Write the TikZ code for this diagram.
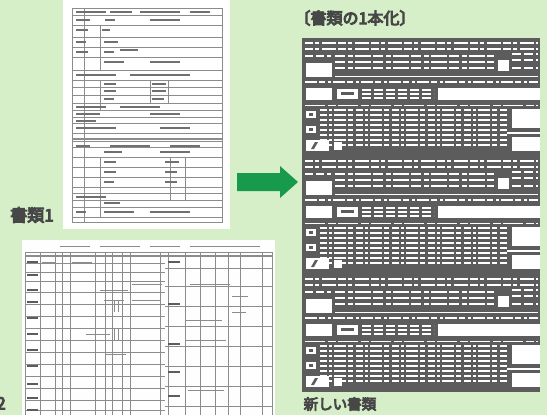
\documentclass[tikz,border=0pt]{standalone}
\usepackage{fontspec}
\newfontfamily\jp[AutoFakeBold=6]{Noto Sans CJK JP}
\definecolor{bg}{HTML}{D6EFC8}
\definecolor{fg}{HTML}{5C5C5C}
\definecolor{txt}{HTML}{474747}
\definecolor{arrowgreen}{HTML}{179A4C}
\definecolor{pline}{HTML}{8C8C8C}
\tikzset{
  wd/.style={white, line width=1.8pt},
  thinl/.style={pline, line width=0.5pt},
  thickl/.style={pline, line width=1.3pt},
  lbl/.style={text=txt, inner sep=0pt, font=\jp\bfseries},
}
\newcommand\formblock[1]{%
\begin{scope}[shift={(302,#1)}]
  \fill[fg] (0,0) rectangle (238,118);
  % top section
  \foreach \yy in {5,11} \draw[wd, dash pattern=on 8pt off 2pt on 4pt off 3pt on 14pt off 2pt] (3,\yy) -- (236,\yy);
  \foreach \yy in {18,24,30} \draw[wd, dash pattern=on 10pt off 3pt on 5pt off 2pt on 16pt off 2pt] (33,\yy) -- (192,\yy);
  \foreach \yy in {16,22,30} \draw[wd, dash pattern=on 9pt off 3pt] (210,\yy) -- (236,\yy);
  \draw[wd, dash pattern=on 8pt off 3pt] (3,18) -- (29,18);
  \fill[white] (4,25) rectangle (30,39);
  \fill[white] (196,22) rectangle (207,33);
  \draw[white, line width=1pt] (33,38) -- (236,38);
  % strip row
  \draw[wd, dash pattern=on 12pt off 2pt on 6pt off 3pt on 3pt off 2pt] (3,44) -- (236,44);
  % second row
  \fill[white] (4,50) rectangle (30,62);
  \fill[white] (35,51) rectangle (56,61);
  \fill[fg] (39,54) rectangle (52,57);
  \foreach \yy in {52,56,60} \draw[wd, line width=1.5pt, dash pattern=on 9pt off 3pt] (60,\yy) -- (132,\yy);
  \fill[white] (136,50) rectangle (238,62);
  \draw[white, line width=1pt, dash pattern=on 20pt off 3pt on 8pt off 2pt] (3,67) -- (236,67);
  % third section
  \fill[white] (4,73) rectangle (14,80);
  \fill[fg] (7,75) rectangle (11,78);
  \fill[white] (4,88) rectangle (14,95);
  \fill[fg] (7,90) rectangle (11,93);
  \foreach \yy in {72,77,82,87,92,97,102,107}
    \draw[wd, line width=1.5pt, dash pattern=on 7pt off 2pt on 3pt off 2pt on 12pt off 2pt on 5pt off 3pt] (18,\yy) -- (205,\yy);
  \fill[white] (210,71) rectangle (238,90);
  \draw[wd] (205,95) -- (238,95);
  \fill[white] (210,99) rectangle (238,113);
  \fill[white] (4,102) rectangle (27,113);
  \fill[fg] (13,104) -- (16,104) -- (12,111) -- (9,111) -- cycle;
  \fill[white] (32,104) rectangle (40,112);
\end{scope}}
\begin{document}
\begin{tikzpicture}[x=1pt, y=-1pt]
\useasboundingbox (0,0) rectangle (547,415);
\fill[bg] (0,0) rectangle (547,415);

% ---------- document 1 ----------
\fill[white] (63,0) rectangle (230,229);
\draw[thinl] (72,8) rectangle (222,222);
\foreach \yy in {15,25,37,47,57,70,80,87,95,103,110,117,123,133,147,157,167,177,187,193,200,207,217}
  \draw[thinl] (72,\yy) -- (222,\yy);
\draw[thickl] (72,139) -- (222,139);
\draw[thickl] (72,141.5) -- (222,141.5);
\draw[thinl] (84,8) -- (84,222);
\draw[thinl] (100,25) -- (100,70);
\draw[thinl] (100,80) -- (100,110);
\draw[thinl] (100,157) -- (100,217);
\draw[thinl] (150,80) -- (150,103);
\draw[thinl] (168,80) -- (168,103);
\draw[thinl] (170,157) -- (170,200);
\draw[thinl] (185,157) -- (185,200);
\foreach \xx/\yy/\ll in {76/12/30,110/12/22,140/12/40,190/12/20,
  76/20/14,105/20/10,150/20/30,76/30/12,102/30/8,76/42/10,104/42/14,
  76/52/12,104/52/10,120/50/18,104/62/20,150/62/30,76/75/40,130/75/60,
  104/84/12,152/84/14,104/91/12,152/91/14,104/99/10,152/99/12,
  76/107/30,120/107/40,76/114/24,150/114/30,76/121/20,76/128/40,160/128/30,
  76/146/14,110/146/40,170/146/30,104/152/18,160/152/30,
  104/162/12,165/162/14,104/172/12,165/172/12,104/182/10,165/182/12,
  76/197/30,104/203/16,76/212/10,104/212/30,150/212/40}
  \draw[pline!80!black, line width=1.2pt] (\xx,\yy) -- ++(\ll,0);

% ---------- document 2 ----------
\fill[white!96!bg] (22,240) rectangle (275,415);
\draw[thinl] (25,252) rectangle (272,420);
\foreach \xx/\ll in {60/30,100/40,150/30,190/50,230/30}
  \draw[thinl] (\xx,246) -- ++(\ll,0);
\draw[thickl] (25,256) -- (272,256);
\foreach \yy in {263,272,281,292,304,316,328,340,352,364,376,388,400,410}
  \draw[thinl] (25,\yy) -- (165,\yy);
\foreach \yy in {268,286,306,326,346,366,386,406}
  \draw[thinl] (165,\yy) -- (272,\yy);
\foreach \xx in {40,55,62,70,95,105,112,122,130,160,168,185,200,215,228,240,262}
  \draw[thinl] (\xx,252) -- (\xx,415);
\foreach \yy in {262,275,290,302,318,334,350,366,384,398,410}
  \draw[fg, line width=1.4pt] (27,\yy) -- (38,\yy);
\foreach \yy in {262,304,344,372,396}
  \draw[fg, line width=1.4pt] (168,\yy) -- (180,\yy);
\foreach \xx/\yy/\ll in {42/262/14,72/262/20,100/290/28,104/300/20,110/316/20,
  86/334/24,104/340/24,106/354/20,132/284/30,132/300/28,190/284/40,
  186/320/36,186/340/40,188/390/36,232/296/16,232/312/14,232/326/14}
  \draw[pline, line width=0.9pt] (\xx,\yy) -- ++(\ll,0);
\foreach \xx/\yy in {114/300,118/300,114/328,118/328}
  \draw[pline, line width=0.8pt] (\xx,\yy) -- ++(0,12);

% ---------- labels ----------
\node[lbl, font=\jp\bfseries\fontsize{17}{19}\selectfont] (doc1) at (32,215) {書類1};
\node[lbl, font=\jp\bfseries\fontsize{17}{19}\selectfont, anchor=east] (doc2) at (6,403) {書類2};
\node[lbl, font=\jp\bfseries\fontsize{16}{18}\selectfont] (title) at (355,18) {〔書類の1本化〕};
\node[lbl, font=\jp\bfseries\fontsize{14.5}{16}\selectfont] (newdoc) at (340,404) {新しい書類};

% ---------- arrow ----------
\fill[arrowgreen] (237,173) -- (280,173) -- (280,166) -- (298,182) -- (280,198) -- (280,191) -- (237,191) -- cycle;

% ---------- new document ----------
\formblock{38}
\formblock{156}
\formblock{274}
\end{tikzpicture}
\end{document}
